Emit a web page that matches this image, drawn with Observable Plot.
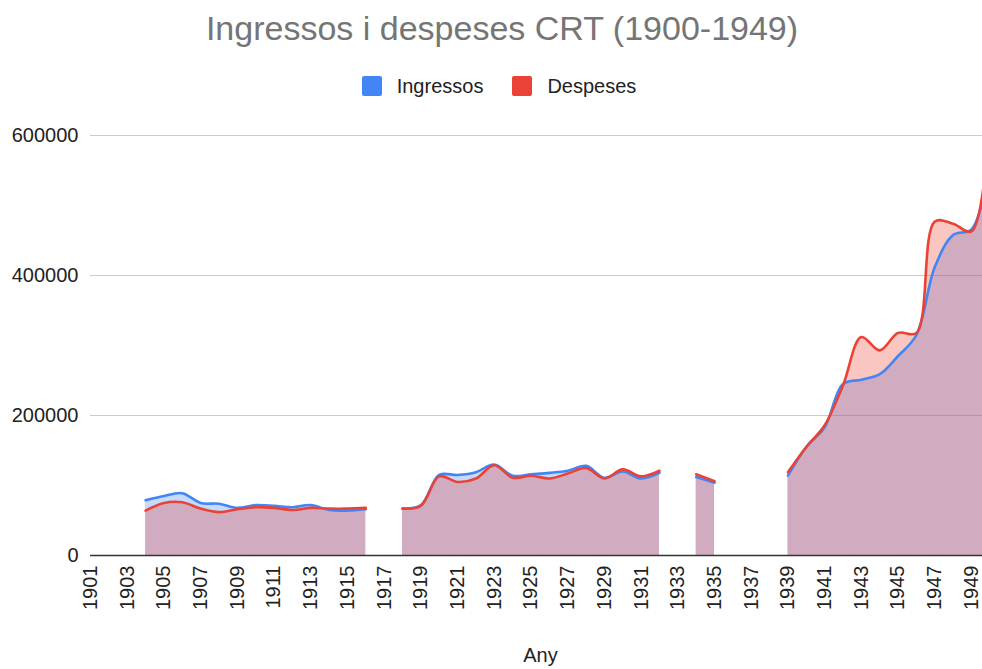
<!DOCTYPE html>
<html>
<head>
<meta charset="utf-8">
<script src="https://cdn.jsdelivr.net/npm/d3@7"></script>
<script src="https://cdn.jsdelivr.net/npm/@observablehq/plot@0.6"></script>
<style>
  html, body { margin: 0; padding: 0; background: #fff; }
  #wrap { width: 982px; height: 669px; position: relative; font-family: Arial, "Liberation Sans", sans-serif; }
  #title { height: 58px; line-height: 56px; font-size: 34px; color: #757575; text-align: center; padding-left: 22px; box-sizing: border-box; white-space: nowrap; }
  #legend { height: 52px; display: flex; justify-content: center; align-items: center; padding-left: 16px; box-sizing: border-box; font-size: 20px; color: #222; padding-top: 4px; }
  .item { display: flex; align-items: center; }
  .sw { width: 20px; height: 20px; border-radius: 2px; margin-right: 15px; }
  .item + .item { margin-left: 29px; }
  svg { display: block; }
</style>
</head>
<body>
<div id="wrap">
  <div id="title"></div>
  <div id="legend"></div>
  <div id="chart"></div>
</div>
<script>
const titleText = "Ingressos i despeses CRT (1900-1949)";
const seriesNames = ["Ingressos", "Despeses"];
const seriesColors = ["#4285F4", "#EA4335"];
const xLabel = "Any";

const years = [1904,1905,1906,1907,1908,1909,1910,1911,1912,1913,1914,1915,1916,1917,
  1918,1919,1920,1921,1922,1923,1924,1925,1926,1927,1928,1929,1930,1931,1932,1933,
  1934,1935,1936,1937,1938,1939,1940,1941,1942,1943,1944,1945,1946,1947,1948,1949,1950];

const ingressos = [79000,85000,89000,75000,74000,68000,72000,71000,69000,72000,65000,64000,66000,null,
  67000,72000,115000,115000,119000,130000,114000,116000,118000,121000,128000,111000,120000,110000,118000,null,
  112000,104000,null,null,null,114000,155000,183000,245000,251000,259000,285000,315000,412000,458000,466000,555000];

const despeses = [64000,75000,76000,67000,62000,66000,69000,68000,65000,68000,67000,67000,68000,null,
  67000,71000,113000,105000,110000,129000,111000,114000,110000,117000,125000,110000,123000,113000,121000,null,
  116000,106000,null,null,null,119000,155000,186000,243000,312000,293000,318000,318000,477000,474000,463000,625000];

const xTicks = d3.range(1901, 1950, 2);
const yTicks = [0, 200000, 400000, 600000];

const num = v => (v == null ? NaN : v);
const data = years.map((year, i) => ({year, ingressos: num(ingressos[i]), despeses: num(despeses[i])}));

document.getElementById("title").textContent = titleText;
const legend = document.getElementById("legend");
seriesNames.forEach((name, i) => {
  const item = document.createElement("div");
  item.className = "item";
  const sw = document.createElement("div");
  sw.className = "sw";
  sw.style.background = seriesColors[i];
  const label = document.createElement("span");
  label.textContent = name;
  item.appendChild(sw);
  item.appendChild(label);
  legend.appendChild(item);
});

const curve = "catmull-rom";
const chart = Plot.plot({
  width: 982,
  height: 559,
  marginLeft: 90,
  marginRight: 0,
  marginTop: 25,
  marginBottom: 114,
  style: {fontFamily: "Arial, 'Liberation Sans', sans-serif", fontSize: "20px", color: "#222", background: "#fff"},
  x: {domain: [1901, 1949.6]},
  y: {domain: [0, 600000]},
  marks: [
    Plot.gridY(yTicks.slice(1), {stroke: "#cccccc", strokeOpacity: 1, strokeWidth: 1.2}),
    Plot.areaY(data, {x: "year", y1: 0, y2: "ingressos", fill: seriesColors[0], fillOpacity: 0.3, curve, clip: true}),
    Plot.areaY(data, {x: "year", y1: 0, y2: "despeses", fill: seriesColors[1], fillOpacity: 0.3, curve, clip: true}),
    Plot.lineY(data, {x: "year", y: "ingressos", stroke: seriesColors[0], strokeWidth: 2.6, curve, clip: true}),
    Plot.lineY(data, {x: "year", y: "despeses", stroke: seriesColors[1], strokeWidth: 2.6, curve, clip: true}),
    Plot.ruleY([0], {stroke: "#333", strokeWidth: 1.5}),
    Plot.axisX(xTicks, {tickSize: 0, tickPadding: 10, tickRotate: -90, tickFormat: d => String(d), label: null, fontSize: 20, fill: "#222"}),
    Plot.axisY(yTicks, {tickSize: 0, tickPadding: 12, tickFormat: d3.format("d"), label: null, fontSize: 20, fill: "#222"}),
    Plot.text([xLabel], {text: d => d, frameAnchor: "bottom", dy: 100, dx: 4, lineAnchor: "middle", fontSize: 20, fill: "#222"})
  ]
});
document.getElementById("chart").appendChild(chart);
</script>
</body>
</html>
